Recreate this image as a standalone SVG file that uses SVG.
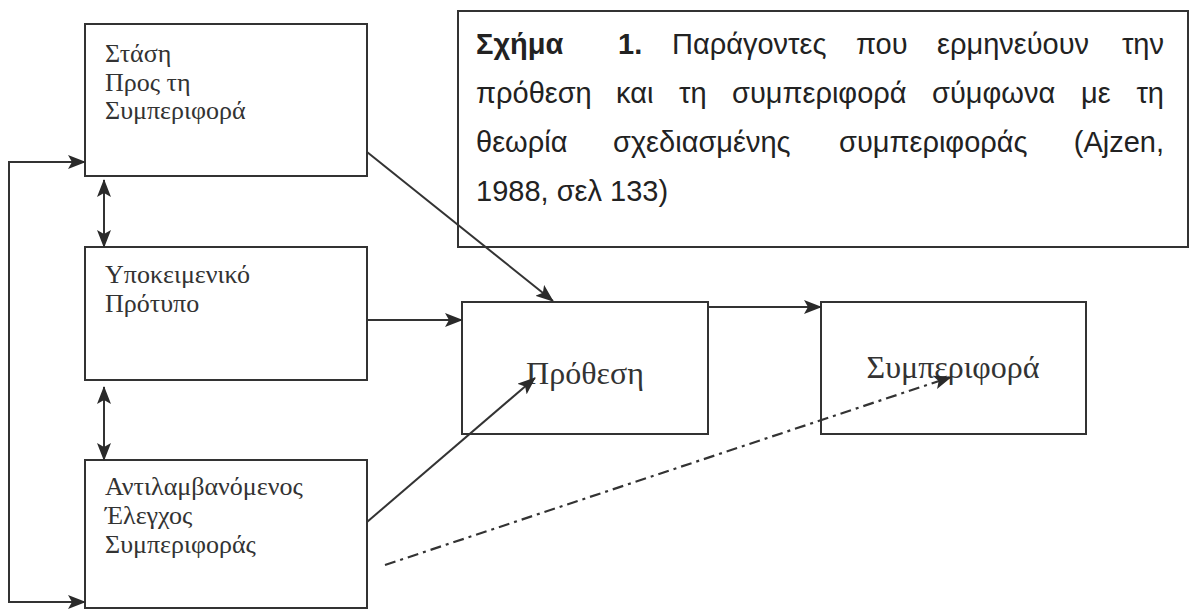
<svg xmlns="http://www.w3.org/2000/svg" width="1193" height="610" viewBox="0 0 1193 610">
<defs>
<style>
.box{fill:#fff;stroke:#333;stroke-width:2}
.ln{fill:none;stroke:#333;stroke-width:2}
.dd{fill:none;stroke:#333;stroke-width:2.2;stroke-dasharray:11 5 3 5}
.t{font-family:"Liberation Serif","Times New Roman",serif;font-size:26px;fill:#333}
.tc{font-family:"Liberation Serif","Times New Roman",serif;font-size:32px;fill:#333}
.cap{font-family:"Liberation Sans",Arial,sans-serif;font-size:29px;fill:#222}
.b{font-weight:bold}
</style>
<marker id="ah" viewBox="0 0 18 14" refX="17" refY="7" markerWidth="18" markerHeight="14" markerUnits="userSpaceOnUse" orient="auto-start-reverse">
<path d="M0,0 L18,7 L0,14 L4,7 Z" fill="#2a2a2a"/>
</marker>
</defs>
<rect width="1193" height="610" fill="#fff"/>
<g id="caption">
<rect class="box" x="458" y="11" width="730" height="236"/>
<text class="cap" y="54"><tspan class="b" x="476">Σχήμα</tspan><tspan class="b" x="618">1.</tspan><tspan x="672">Παράγοντες</tspan><tspan x="856">που</tspan><tspan x="937">ερμηνεύουν</tspan></text>
<text class="cap" y="54" x="1164" text-anchor="end">την</text>
<text class="cap" y="103"><tspan x="476">πρόθεση</tspan><tspan x="616">και</tspan><tspan x="679">τη</tspan><tspan x="732">συμπεριφορά</tspan><tspan x="932">σύμφωνα</tspan><tspan x="1081">με</tspan></text>
<text class="cap" y="103" x="1164" text-anchor="end">τη</text>
<text class="cap" y="152"><tspan x="476">θεωρία</tspan><tspan x="613">σχεδιασμένης</tspan><tspan x="839">συμπεριφοράς</tspan></text>
<text class="cap" y="152" x="1164" text-anchor="end">(Ajzen,</text>
<text class="cap" y="201" x="476">1988, σελ 133)</text>
</g>
<g id="n1"><rect class="box" x="85" y="24" width="282" height="152"/>
<text class="t"><tspan x="105" y="62">Στάση</tspan><tspan x="105" y="91">Προς τη</tspan><tspan x="105" y="119">Συμπεριφορά</tspan></text></g>
<g id="n2"><rect class="box" x="85" y="247" width="282" height="133"/>
<text class="t"><tspan x="105" y="283">Υποκειμενικό</tspan><tspan x="105" y="312">Πρότυπο</tspan></text></g>
<g id="n3"><rect class="box" x="85" y="460" width="282" height="148"/>
<text class="t"><tspan x="105" y="495">Αντιλαμβανόμενος</tspan><tspan x="105" y="524">Έλεγχος</tspan><tspan x="105" y="553">Συμπεριφοράς</tspan></text></g>
<g id="n4"><rect class="box" x="462" y="302" width="246" height="132"/>
<text class="tc" x="585" y="384" text-anchor="middle">Πρόθεση</text></g>
<g id="n5"><rect class="box" x="821" y="302" width="265" height="132"/>
<text class="tc" x="953" y="378" text-anchor="middle">Συμπεριφορά</text></g>
<g id="connectors">
<polyline class="ln" points="85,162 9,162 9,602 85,602" marker-start="url(#ah)" marker-end="url(#ah)"/>
<line class="ln" x1="104" y1="180" x2="104" y2="247" marker-start="url(#ah)" marker-end="url(#ah)"/>
<line class="ln" x1="104" y1="387" x2="104" y2="460" marker-start="url(#ah)" marker-end="url(#ah)"/>
<line class="ln" x1="367" y1="152" x2="553" y2="301" marker-end="url(#ah)"/>
<line class="ln" x1="367" y1="320" x2="462" y2="320" marker-end="url(#ah)"/>
<line class="ln" x1="708" y1="307" x2="821" y2="307" marker-end="url(#ah)"/>
<line class="ln" x1="367" y1="522" x2="535" y2="378" marker-end="url(#ah)"/>
<line class="dd" x1="385" y1="565" x2="951" y2="377" marker-end="url(#ah)"/>
</g>
</svg>
